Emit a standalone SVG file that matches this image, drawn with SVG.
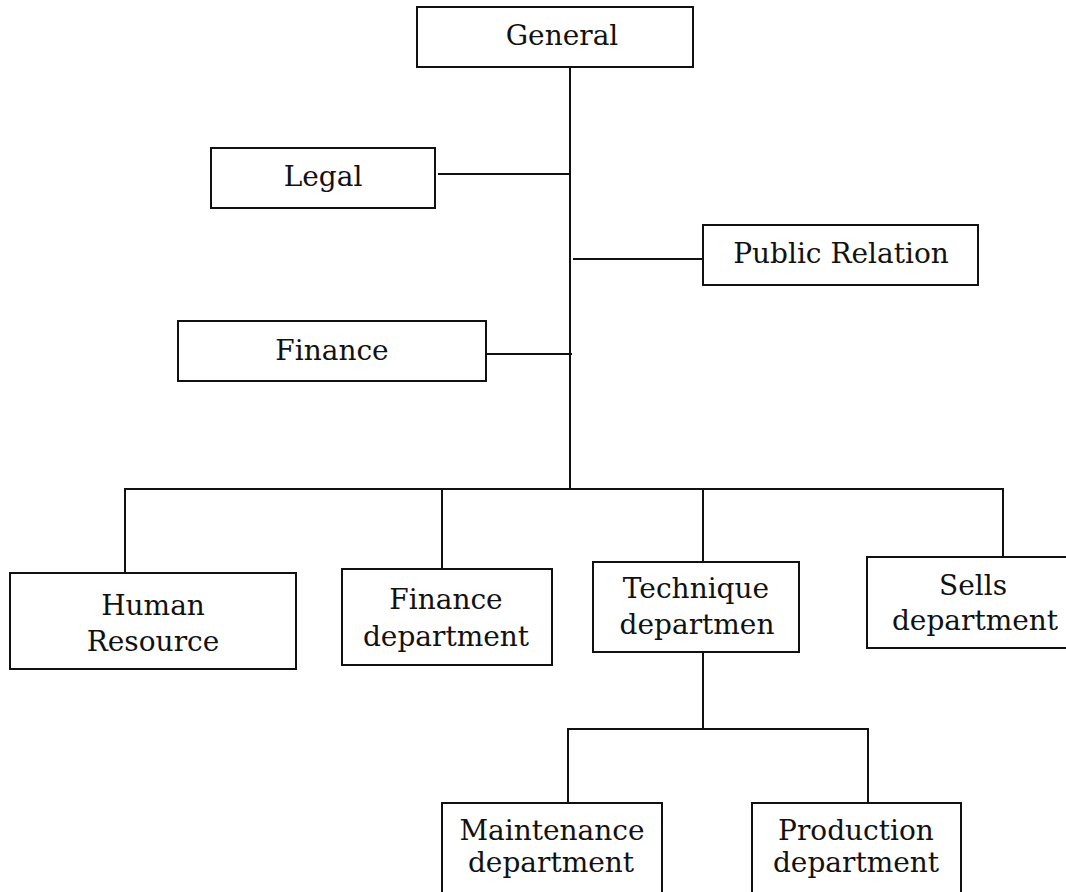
<svg xmlns="http://www.w3.org/2000/svg" width="1066" height="892" viewBox="0 0 1066 892">
<style>
.box{fill:#fff;stroke:#111;stroke-width:2}
.ln{stroke:#111;stroke-width:2;fill:none}
text{font-family:"DejaVu Serif","Liberation Serif",serif;font-size:28px;fill:#111;text-anchor:middle}
</style>
<rect width="1066" height="892" fill="#fff"/>
<g id="connectors">
<line class="ln" x1="570" y1="67" x2="570" y2="489"/>
<line class="ln" x1="438" y1="174" x2="570" y2="174"/>
<line class="ln" x1="573" y1="259" x2="703" y2="259"/>
<line class="ln" x1="486" y1="354" x2="572" y2="354"/>
<line class="ln" x1="124" y1="489" x2="1004" y2="489"/>
<line class="ln" x1="125" y1="489" x2="125" y2="573"/>
<line class="ln" x1="442" y1="489" x2="442" y2="569"/>
<line class="ln" x1="703" y1="489" x2="703" y2="562"/>
<line class="ln" x1="1003" y1="489" x2="1003" y2="557"/>
<line class="ln" x1="703" y1="652" x2="703" y2="729"/>
<line class="ln" x1="567" y1="729" x2="869" y2="729"/>
<line class="ln" x1="568" y1="729" x2="568" y2="803"/>
<line class="ln" x1="868" y1="729" x2="868" y2="803"/>
</g>
<g id="general"><rect class="box" x="417" y="7" width="276" height="60"/><text x="562" y="45">General</text></g>
<g id="legal"><rect class="box" x="211" y="148" width="224" height="60"/><text x="323" y="186">Legal</text></g>
<g id="public-relation"><rect class="box" x="703" y="225" width="275" height="60"/><text x="841" y="263">Public Relation</text></g>
<g id="finance"><rect class="box" x="178" y="321" width="308" height="60"/><text x="332" y="360">Finance</text></g>
<g id="human-resource"><rect class="box" x="10" y="573" width="286" height="96"/><text x="153" y="615">Human</text><text x="153" y="651">Resource</text></g>
<g id="finance-department"><rect class="box" x="342" y="569" width="210" height="96"/><text x="446" y="609">Finance</text><text x="446" y="646">department</text></g>
<g id="technique-department"><rect class="box" x="593" y="562" width="206" height="90"/><text x="696" y="598">Technique</text><text x="697" y="634">departmen</text></g>
<g id="sells-department"><rect class="box" x="867" y="557" width="210" height="91"/><text x="973" y="595">Sells</text><text x="975" y="630">department</text></g>
<g id="maintenance-department"><rect class="box" x="442" y="803" width="220" height="100"/><text x="552" y="840">Maintenance</text><text x="551" y="872">department</text></g>
<g id="production-department"><rect class="box" x="752" y="803" width="209" height="100"/><text x="856" y="840">Production</text><text x="856" y="872">department</text></g>
</svg>
